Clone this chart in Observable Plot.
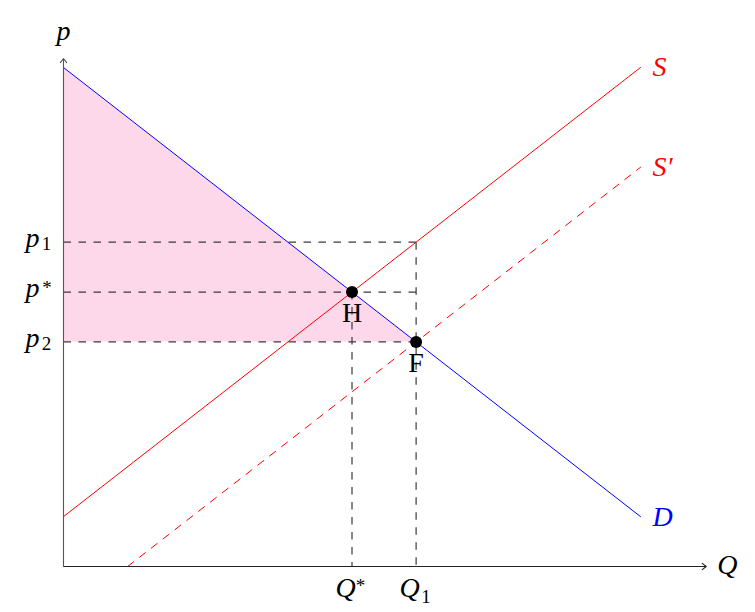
<!DOCTYPE html>
<html>
<head>
<meta charset="utf-8">
<script src="https://cdn.jsdelivr.net/npm/d3@7"></script>
<script src="https://cdn.jsdelivr.net/npm/@observablehq/plot@0.6"></script>
<style>
  html, body { margin: 0; padding: 0; background: #fff; }
</style>
</head>
<body>
<div id="chart"></div>
<script>
// ---- data (model units) ----
const demand = [{q: 0, p: 10}, {q: 10, p: 1}];
const supply = [{q: 0, p: 1}, {q: 10, p: 10}];
const supplyShift = [{q: 1.111, p: 0}, {q: 10, p: 8}];
const pointH = {q: 5, p: 5.5, label: "H"};
const pointF = {q: 6.111, p: 4.5, label: "F"};
const priceP1 = 6.5;
const axisEnd = {q: 11.14, p: 10.18};

// shaded region under demand between p2 and the demand line
const shade = [{q: 0, top: 10, bottom: pointF.p}, {q: pointF.q, top: pointF.p, bottom: pointF.p}];

// dashed guide segments
const guides = [
  {q1: 0, p1: priceP1, q2: pointF.q, p2: priceP1},
  {q1: pointF.q, p1: priceP1, q2: pointF.q, p2: 0},
  {q1: 0, p1: pointH.p, q2: pointF.q, p2: pointH.p},
  {q1: pointH.q, p1: pointH.p, q2: pointH.q, p2: 0},
  {q1: 0, p1: pointF.p, q2: pointF.q, p2: pointF.p}
];

// tick labels: base letter plus index (superscript or subscript)
const yTickLabels = [
  {p: priceP1, base: "p", idx: "1", sup: false},
  {p: pointH.p, base: "p", idx: "*", sup: true},
  {p: pointF.p, base: "p", idx: "2", sup: false}
];
const xTickLabels = [
  {q: pointH.q, base: "Q", idx: "*", sup: true},
  {q: pointF.q, base: "Q", idx: "1", sup: false}
];
const curveLabels = [
  {q: 10, p: 10, text: "S", color: "red"},
  {q: 10, p: 8, text: "S\u2032", color: "red"},
  {q: 10, p: 1, text: "D", color: "blue"}
];

const serif = "'Liberation Serif', 'DejaVu Serif', serif";
const big = 28, small = 19;
const dash = "7.5,7.5";

const chart = Plot.plot({
  width: 755,
  height: 612,
  margin: 0,
  x: {domain: [0, 10], range: [63, 640], axis: null},
  y: {domain: [0, 10], range: [566, 67], axis: null},
  style: {fontFamily: serif, background: "white"},
  marks: [
    Plot.areaY(shade, {x: "q", y1: "bottom", y2: "top", fill: "#fdd7ea"}),
    Plot.link(guides, {x1: "q1", y1: "p1", x2: "q2", y2: "p2", stroke: "#3a3a3a", strokeWidth: 1.2, strokeDasharray: dash}),
    Plot.line(demand, {x: "q", y: "p", stroke: "blue", strokeWidth: 1}),
    Plot.line(supply, {x: "q", y: "p", stroke: "red", strokeWidth: 1}),
    Plot.line(supplyShift, {x: "q", y: "p", stroke: "red", strokeWidth: 1, strokeDasharray: dash}),
    // axes
    Plot.arrow([{x1: 0, y1: 0, x2: axisEnd.q, y2: 0}], {x1: "x1", y1: "y1", x2: "x2", y2: "y2", stroke: "#222", strokeWidth: 1.1, headLength: 7, headAngle: 75}),
    Plot.arrow([{x1: 0, y1: 0, x2: 0, y2: axisEnd.p}], {x1: "x1", y1: "y1", x2: "x2", y2: "y2", stroke: "#555", strokeWidth: 1.1, headLength: 7, headAngle: 75}),
    // points
    Plot.dot([pointH, pointF], {x: "q", y: "p", r: 6, fill: "black", stroke: "none"}),
    Plot.text([pointH, pointF], {x: "q", y: "p", text: "label", dy: 21, fontSize: big, fill: "black"}),
    // axis titles
    Plot.text([{q: 0, p: axisEnd.p}], {x: "q", y: "p", text: () => "p", dy: -27, fontSize: big, fontStyle: "italic", fill: "black"}),
    Plot.text([{q: axisEnd.q, p: 0}], {x: "q", y: "p", text: () => "Q", dx: 21, dy: -1, fontSize: big, fontStyle: "italic", fill: "black"}),
    // y tick labels
    Plot.text(yTickLabels, {x: () => 0, y: "p", text: "base", dx: -31, dy: -4, fontSize: big, fontStyle: "italic", fill: "black"}),
    Plot.text(yTickLabels.filter(d => !d.sup), {x: () => 0, y: "p", text: "idx", dx: -17, dy: 2, fontSize: small, fill: "black"}),
    Plot.text(yTickLabels.filter(d => d.sup), {x: () => 0, y: "p", text: "idx", dx: -16.5, dy: -4.5, fontSize: small, fill: "black"}),
    // x tick labels
    Plot.text(xTickLabels, {x: "q", y: () => 0, text: "base", dx: -6.5, dy: 22, fontSize: big, fontStyle: "italic", fill: "black"}),
    Plot.text(xTickLabels.filter(d => d.sup), {x: "q", y: () => 0, text: "idx", dx: 8.5, dy: 19, fontSize: small, fill: "black"}),
    Plot.text(xTickLabels.filter(d => !d.sup), {x: "q", y: () => 0, text: "idx", dx: 10, dy: 30, fontSize: small, fill: "black"}),
    // curve labels
    Plot.text(curveLabels, {x: "q", y: "p", text: "text", fill: "color", dx: 12, textAnchor: "start", fontSize: big, fontStyle: "italic"})
  ]
});
document.getElementById("chart").appendChild(chart);
</script>
</body>
</html>
